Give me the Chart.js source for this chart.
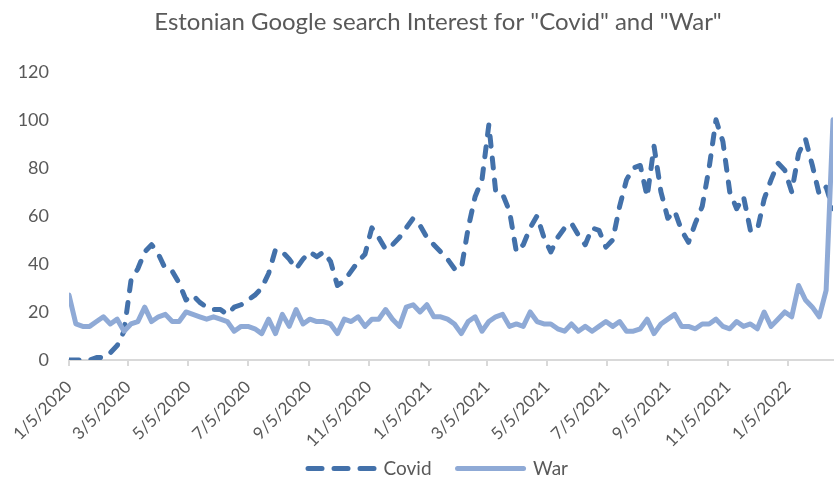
<!DOCTYPE html>
<html>
<head>
<meta charset="utf-8">
<script src="https://cdn.jsdelivr.net/npm/chart.js@4.4.1/dist/chart.umd.min.js"></script>
<style>
    html, body { margin: 0; padding: 0; background: #fff; overflow: hidden; }
    #wrap { width: 876px; height: 504px; }
</style>
</head>
<body>
<div id="wrap"><canvas id="chart" width="876" height="504"></canvas></div>
<script>
/**
 * Данные: еженедельные значения Google Trends (Эстония), с 5 января 2020.
 */
const START_DATE = '1/5/2020';
const WEEKS = 112;

const covid = [
    0, 0, 0, 0, 1, 1, 3, 6, 12, 33,
    38, 45, 48, 44, 38, 37, 32, 25, 27, 24,
    22, 21, 21, 19, 22, 23, 25, 27, 30, 36,
    46, 45, 42, 38, 42, 45, 43, 45, 41, 31,
    33, 37, 41, 44, 55, 51, 46, 48, 51, 55,
    59, 56, 51, 48, 45, 42, 38, 38, 55, 68,
    75, 98, 70, 69, 62, 45, 48, 55, 60, 51,
    45, 51, 55, 57, 52, 48, 55, 54, 47, 50,
    64, 75, 80, 81, 68, 89, 70, 59, 62, 54,
    49, 57, 64, 80, 100, 91, 70, 63, 68, 54,
    54, 67, 75, 82, 79, 70, 86, 92, 81, 69,
    72, 63
];

const war = [
    27, 15, 14, 14, 16, 18, 15, 17, 12, 15,
    16, 22, 16, 18, 19, 16, 16, 20, 19, 18,
    17, 18, 17, 16, 12, 14, 14, 13, 11, 17,
    11, 19, 14, 21, 15, 17, 16, 16, 15, 11,
    17, 16, 18, 14, 17, 17, 21, 17, 14, 22,
    23, 20, 23, 18, 18, 17, 15, 11, 16, 18,
    12, 16, 18, 19, 14, 15, 14, 20, 16, 15,
    15, 13, 12, 15, 12, 14, 12, 14, 16, 14,
    16, 12, 12, 13, 17, 11, 15, 17, 19, 14,
    14, 13, 15, 15, 17, 14, 13, 16, 14, 15,
    13, 20, 14, 17, 20, 18, 31, 25, 22, 18,
    29, 100
];

const tickLabels = [
    '1/5/2020', '3/5/2020', '5/5/2020', '7/5/2020', '9/5/2020', '11/5/2020',
    '1/5/2021', '3/5/2021', '5/5/2021', '7/5/2021', '9/5/2021', '11/5/2021',
    '1/5/2022'
];

const yTicks = [0, 20, 40, 60, 80, 100, 120];

/**
 * Переводим дату вида m/d/yyyy в число дней от начальной даты.
 */
const DAY = 86400000;
const toUTC = (s) => {
    const [m, d, y] = s.split('/').map(Number);
    return Date.UTC(y, m - 1, d);
};
const daysFromStart = (s) => Math.round((toUTC(s) - toUTC(START_DATE)) / DAY);

const weekDays = Array.from({length: WEEKS}, (_, i) => i * 7);
const tickDays = tickLabels.map(daysFromStart);

const toPoints = (values) => values.map((v, i) => ({x: weekDays[i], y: v}));

const GRAY = '#595959';
const FONT = 'Lato, "Open Sans", sans-serif';

const ctx = document.getElementById('chart').getContext('2d');

/**
 * Легенда с pointStyle 'line' теряет пунктир датасета, поэтому добавляем его вручную.
 */
const legendLabels = (chart) => {
    const items = Chart.defaults.plugins.legend.labels.generateLabels(chart);
    items.forEach((item) => {
        const ds = chart.data.datasets[item.datasetIndex];
        item.lineDash = ds.borderDash ? [14, 12] : [];
        item.lineCap = 'round';
        item.lineWidth = 5;
    });
    return items;
};

/**
 * Подписи оси X обрезаются по рамке шкалы - раздвигаем её вниз после раскладки.
 */
const unclipXLabels = {
    id: 'unclipXLabels',
    afterLayout: (chart) => {
        chart.scales.x.bottom = chart.height;
    }
};

new Chart(ctx, {
    type: 'line',
    data: {
        datasets: [
            {
                label: 'Covid',
                data: toPoints(covid),
                borderColor: '#4371AA',
                backgroundColor: '#4371AA',
                borderWidth: 5,
                borderDash: [10, 12],
                borderCapStyle: 'round',
                borderJoinStyle: 'round',
                pointRadius: 0,
                tension: 0,
                order: 1
            },
            {
                label: 'War',
                data: toPoints(war),
                borderColor: '#8FAAD6',
                backgroundColor: '#8FAAD6',
                borderWidth: 5,
                borderCapStyle: 'round',
                borderJoinStyle: 'round',
                pointRadius: 0,
                tension: 0,
                order: 0
            }
        ]
    },
    plugins: [unclipXLabels],
    options: {
        responsive: false,
        animation: false,
        devicePixelRatio: 1,
        layout: {
            padding: {left: 0, right: 0, top: 0, bottom: 16}
        },
        plugins: {
            title: {
                display: true,
                text: 'Estonian Google search Interest for "Covid" and "War"',
                color: GRAY,
                font: {family: FONT, size: 24, weight: 'normal'},
                padding: {top: 8, bottom: 35}
            },
            legend: {
                position: 'bottom',
                labels: {
                    color: GRAY,
                    font: {family: FONT, size: 19},
                    usePointStyle: true,
                    pointStyle: 'line',
                    pointStyleWidth: 66,
                    padding: 26,
                    sort: (a, b) => a.datasetIndex - b.datasetIndex,
                    generateLabels: legendLabels
                }
            },
            tooltip: {enabled: false}
        },
        scales: {
            x: {
                type: 'linear',
                min: 0,
                max: weekDays[weekDays.length - 1],
                afterBuildTicks: (scale) => {
                    scale.ticks = tickDays.map((v) => ({value: v}));
                },
                afterFit: (scale) => {
                    scale.height = 73;
                },
                ticks: {
                    autoSkip: false,
                    minRotation: 45,
                    maxRotation: 45,
                    padding: 11,
                    color: GRAY,
                    font: {family: FONT, size: 17},
                    callback: (value) => tickLabels[tickDays.indexOf(value)] || ''
                },
                grid: {
                    drawOnChartArea: false,
                    drawTicks: true,
                    tickLength: 6,
                    color: '#D9D9D9',
                    lineWidth: 2
                },
                border: {color: '#D9D9D9', width: 2}
            },
            y: {
                min: 0,
                max: 120,
                afterBuildTicks: (scale) => {
                    scale.ticks = yTicks.map((v) => ({value: v}));
                },
                afterFit: (scale) => {
                    scale.width = 69;
                },
                ticks: {
                    padding: 20,
                    color: GRAY,
                    font: {family: FONT, size: 18}
                },
                grid: {display: false, drawTicks: false},
                border: {display: false}
            },
            // пустая ось справа - только отступ, чтобы область графика кончалась у края картинки
            yRight: {
                position: 'right',
                afterFit: (scale) => {
                    scale.width = 43;
                },
                ticks: {display: false},
                grid: {display: false, drawTicks: false},
                border: {display: false}
            }
        }
    }
});
</script>
</body>
</html>
